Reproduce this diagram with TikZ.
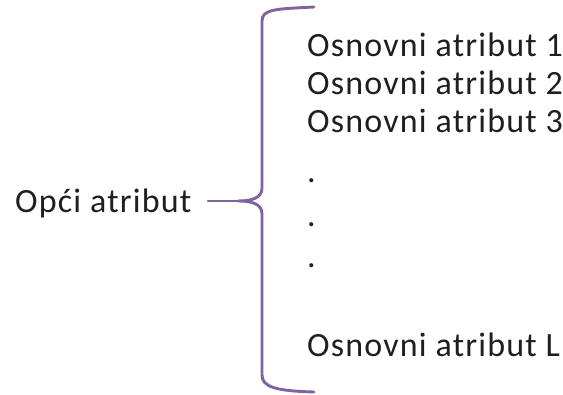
\documentclass[tikz,border=0pt]{standalone}
\usepackage{fontspec}
\setmainfont{Carlito}[LetterSpace=3.5]
\usepackage{tikz}
\definecolor{bracepurple}{RGB}{128,100,162}

\begin{document}
\begin{tikzpicture}[x=1pt,y=1pt,
  attr/.style={font=\fontsize{34}{38}\selectfont,text=black!88,inner sep=0pt,anchor=base west},
  brace/.style={draw=bracepurple,line width=2.9pt,line cap=round,line join=round}]
\useasboundingbox (0,0) rectangle (563,395);
\node [attr] (opci) at (15,182) {Opći atribut};
\coordinate (tip) at (238,194);
\draw [brace] (314,388) .. controls (276,386) and (262,386) .. (262,374)
  -- (262,207) .. controls (262,197) and (252,194) .. (tip)
  .. controls (252,194) and (262,191) .. (262,181)
  -- (262,20) .. controls (262,8) and (276,4) .. (314,3);
\draw [brace] (208,194) coordinate (start) -- (tip);
\node [attr] (osn1) at (307,338) {Osnovni atribut 1};
\node [attr] (osn2) at (307,300) {Osnovni atribut 2};
\node [attr] (osn3) at (307,262) {Osnovni atribut 3};
\node [attr] (dot1) at (307,212) {.};
\node [attr] (dot2) at (307,168) {.};
\node [attr] (dot3) at (307,127) {.};
\node [attr] (osnL) at (307,38) {Osnovni atribut L};
\end{tikzpicture}
\end{document}
